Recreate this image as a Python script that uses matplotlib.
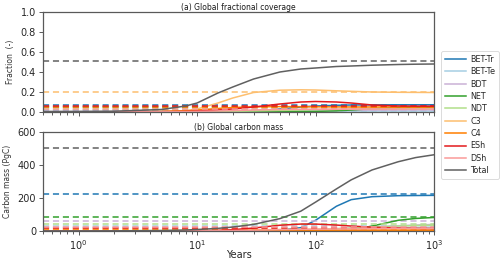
import matplotlib
matplotlib.use("Agg")
import matplotlib.pyplot as plt
import numpy as np

# time axis (years)
years = [0.5, 1, 2, 5, 8, 10, 15, 20, 30, 50, 75, 100, 150, 200, 300, 500, 700, 1000]

pfts = ["BET-Tr", "BET-Te", "BDT", "NET", "NDT", "C3", "C4", "ESh", "DSh", "Total"]
colors = ["#1f78b4", "#a6cee3", "#cab2d6", "#33a02c", "#b2df8a",
          "#fdbf6f", "#ff7f00", "#e31a1c", "#fb9a99", "#606060"]

# (a) fractional coverage, simulated
frac_BET_Tr = [0.001, 0.001, 0.001, 0.001, 0.001, 0.001, 0.002, 0.004, 0.01, 0.03, 0.05, 0.06, 0.067, 0.07, 0.071, 0.072, 0.072, 0.072]
frac_BET_Te = [0.001, 0.001, 0.001, 0.001, 0.001, 0.001, 0.002, 0.003, 0.004, 0.006, 0.008, 0.009, 0.01, 0.01, 0.01, 0.01, 0.01, 0.01]
frac_BDT    = [0.001, 0.001, 0.001, 0.001, 0.001, 0.001, 0.002, 0.003, 0.005, 0.008, 0.011, 0.013, 0.016, 0.018, 0.02, 0.021, 0.022, 0.022]
frac_NET    = [0.001, 0.001, 0.001, 0.001, 0.001, 0.001, 0.001, 0.002, 0.003, 0.004, 0.005, 0.006, 0.012, 0.02, 0.033, 0.043, 0.046, 0.048]
frac_NDT    = [0.001, 0.001, 0.001, 0.001, 0.001, 0.002, 0.004, 0.006, 0.01, 0.016, 0.02, 0.023, 0.026, 0.028, 0.03, 0.031, 0.031, 0.031]
frac_C3     = [0.002, 0.002, 0.002, 0.004, 0.01, 0.03, 0.09, 0.14, 0.195, 0.218, 0.222, 0.22, 0.212, 0.207, 0.2, 0.197, 0.196, 0.195]
frac_C4     = [0.002, 0.002, 0.003, 0.006, 0.012, 0.02, 0.035, 0.045, 0.052, 0.054, 0.053, 0.052, 0.051, 0.05, 0.05, 0.05, 0.05, 0.05]
frac_ESh    = [0.001, 0.001, 0.001, 0.003, 0.006, 0.01, 0.02, 0.03, 0.05, 0.08, 0.1, 0.105, 0.1, 0.09, 0.07, 0.06, 0.058, 0.058]
frac_DSh    = [0.001, 0.001, 0.001, 0.002, 0.004, 0.006, 0.01, 0.014, 0.02, 0.025, 0.027, 0.028, 0.029, 0.03, 0.03, 0.03, 0.03, 0.03]
frac_Total  = [0.005, 0.006, 0.008, 0.025, 0.06, 0.09, 0.19, 0.25, 0.33, 0.40, 0.43, 0.44, 0.455, 0.46, 0.468, 0.475, 0.478, 0.48]

# (a) fractional coverage, reference (dashed)
frac_ref = [0.073, 0.012, 0.025, 0.047, 0.035, 0.205, 0.052, 0.062, 0.032, 0.51]

# (b) carbon mass (PgC), simulated
cm_BET_Tr = [0, 0, 0, 0, 0, 0, 0.2, 0.5, 1, 5, 20, 65, 150, 190, 208, 214, 215, 216]
cm_BET_Te = [0, 0, 0, 0, 0, 0, 0.2, 0.4, 1, 2, 4, 6, 9, 12, 16, 20, 22, 24]
cm_BDT    = [0, 0, 0, 0, 0, 0, 0.2, 0.5, 1, 3, 6, 9, 14, 18, 25, 32, 36, 40]
cm_NET    = [0, 0, 0, 0, 0, 0, 0.1, 0.2, 0.5, 1, 2, 3, 4, 6, 30, 65, 76, 82]
cm_NDT    = [0, 0, 0, 0, 0, 0, 0.2, 0.5, 1, 3, 6, 9, 14, 18, 24, 30, 33, 35]
cm_C3     = [0, 0, 0, 0.1, 0.3, 0.6, 2, 4, 7, 9, 10, 10, 9.5, 9.5, 9.5, 9.5, 9.5, 9.5]
cm_C4     = [0, 0, 0, 0.1, 0.3, 0.5, 1.5, 2.5, 3.5, 4, 4, 4, 4, 4, 4, 4, 4, 4]
cm_ESh    = [0, 0, 0, 0.2, 0.5, 1, 4, 8, 18, 35, 42, 42, 36, 30, 23, 18, 16, 15]
cm_DSh    = [0, 0, 0, 0.1, 0.3, 0.6, 2, 3, 5, 8, 10, 11, 12, 13, 14, 15, 15, 15]
cm_Total  = [0.5, 0.6, 1, 3, 6, 9, 16, 24, 40, 75, 120, 175, 255, 310, 370, 420, 445, 462]

# (b) carbon mass, reference (dashed)
cm_ref = [222, 32, 62, 86, 42, 12, 8, 18, 22, 502]

frac_series = [frac_BET_Tr, frac_BET_Te, frac_BDT, frac_NET, frac_NDT,
               frac_C3, frac_C4, frac_ESh, frac_DSh, frac_Total]
cm_series = [cm_BET_Tr, cm_BET_Te, cm_BDT, cm_NET, cm_NDT,
             cm_C3, cm_C4, cm_ESh, cm_DSh, cm_Total]

fig = plt.figure(figsize=(5.0, 2.59), dpi=100)
ax1 = fig.add_axes([43/500, 1-112/259, (434-43)/500, 100/259])
ax2 = fig.add_axes([43/500, 1-231/259, (434-43)/500, 99/259])

spine_c = "0.35"
for ax in (ax1, ax2):
    ax.set_xscale("log")
    ax.set_xlim(0.5, 1000)
    for s in ax.spines.values():
        s.set_color(spine_c)
        s.set_linewidth(0.9)
    ax.tick_params(axis="both", which="both", colors=spine_c, labelcolor="0.15",
                   labelsize=7, width=0.7, pad=2)
    ax.tick_params(which="major", length=3)
    ax.tick_params(which="minor", length=2)

lw = 1.1
for name, c, ys, ref in zip(pfts, colors, frac_series, frac_ref):
    ax1.plot(years, ys, color=c, lw=lw, label=name)
    ax1.axhline(ref, color=c, lw=lw, ls=(0, (4, 2.5)))
for name, c, ys, ref in zip(pfts, colors, cm_series, cm_ref):
    ax2.plot(years, ys, color=c, lw=lw)
    ax2.axhline(ref, color=c, lw=lw, ls=(0, (4, 2.5)))

ax1.set_ylim(0, 1.0)
ax1.set_yticks([0, 0.2, 0.4, 0.6, 0.8, 1.0])
ax1.tick_params(axis="x", which="both", labelbottom=False)
ax1.set_ylabel("Fraction  (-)", fontsize=5.5, color="0.2")
ax1.set_title("(a) Global fractional coverage", fontsize=5.5, pad=1.5, color="0.1")

ax2.set_ylim(0, 600)
ax2.set_yticks([0, 200, 400, 600])
ax2.set_ylabel("Carbon mass (PgC)", fontsize=5.5, color="0.2")
ax2.set_title("(b) Global carbon mass", fontsize=5.5, pad=1.5, color="0.1")
ax2.set_xlabel("Years", fontsize=7, color="0.15", labelpad=-1)

handles, labels = ax1.get_legend_handles_labels()
leg = fig.legend(handles, labels, loc="center left", bbox_to_anchor=(0.874, 0.556),
                 fontsize=5.8, frameon=True, handlelength=2.6, labelspacing=0.42,
                 borderpad=0.45, handletextpad=0.6)
leg.get_frame().set_linewidth(0.6)
for txt in leg.get_texts():
    txt.set_color("0.15")

fig.savefig("out.png", dpi=100)
